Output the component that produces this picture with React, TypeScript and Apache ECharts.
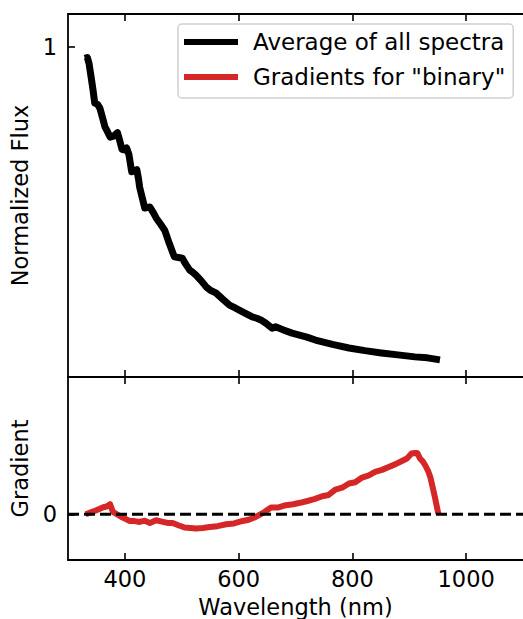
import React, { useEffect, useRef } from "react";
import * as echarts from "echarts";

const avgWavelength = [330, 334, 337, 341, 344, 347, 352, 356, 360, 365, 369, 374, 380, 387, 391, 395, 399, 403, 407, 412, 416, 421, 424, 426, 431, 435, 440, 444, 450, 455, 462, 470, 478, 487, 494, 501, 507, 514, 519, 525, 534, 543, 551, 560, 572, 584, 593, 601, 612, 624, 632, 639, 648, 659, 665, 680, 694, 707, 720, 735, 765, 794, 822, 851, 880, 910, 932, 954];
const avgFlux = [0.965, 0.968, 0.95, 0.905, 0.87, 0.83, 0.826, 0.815, 0.79, 0.758, 0.745, 0.727, 0.73, 0.74, 0.716, 0.69, 0.688, 0.694, 0.675, 0.622, 0.624, 0.628, 0.6, 0.575, 0.54, 0.512, 0.514, 0.515, 0.498, 0.482, 0.465, 0.445, 0.405, 0.364, 0.362, 0.36, 0.342, 0.324, 0.318, 0.309, 0.292, 0.273, 0.262, 0.255, 0.236, 0.218, 0.21, 0.203, 0.193, 0.182, 0.178, 0.173, 0.163, 0.148, 0.152, 0.142, 0.133, 0.127, 0.121, 0.112, 0.099, 0.088, 0.08, 0.073, 0.067, 0.061, 0.058, 0.052];

const gradWavelength = [331, 340, 350, 356, 362, 368, 374, 379, 386, 394, 401, 408, 417, 426, 435, 444, 450, 455, 465, 475, 484, 494, 505, 515, 525, 537, 549, 563, 578, 592, 607, 618, 630, 643, 657, 664, 670, 683, 696, 708, 721, 733, 747, 758, 770, 782, 794, 805, 817, 829, 840, 852, 864, 875, 887, 896, 904, 910, 914, 919, 924, 928, 933, 937, 941, 945, 948, 951];
const gradValue = [0, 0.04, 0.087, 0.12, 0.153, 0.17, 0.219, 0.05, 0.0, -0.059, -0.1, -0.146, -0.15, -0.168, -0.14, -0.19, -0.16, -0.131, -0.16, -0.19, -0.19, -0.24, -0.29, -0.3, -0.313, -0.3, -0.278, -0.26, -0.219, -0.2, -0.146, -0.12, -0.059, 0.03, 0.146, 0.15, 0.15, 0.197, 0.22, 0.25, 0.29, 0.33, 0.393, 0.42, 0.54, 0.58, 0.671, 0.7, 0.802, 0.85, 0.925, 0.97, 1.034, 1.09, 1.165, 1.22, 1.327, 1.34, 1.34, 1.218, 1.15, 1.071, 0.95, 0.815, 0.6, 0.378, 0.2, 0.015];

const xTicks = [400, 600, 800, 1000];
const fluxTicks = [1];
const gradTicks = [0];

const seriesNames = ["Average of all spectra", 'Gradients for "binary"'];
const xTitle = "Wavelength (nm)";
const fluxTitle = "Normalized Flux";
const gradTitle = "Gradient";

const FONT = "DejaVu Sans";

export default function App() {
  const ref = useRef<HTMLDivElement>(null);
  useEffect(() => {
    if (!ref.current) return;
    const chart = echarts.init(ref.current, null, { renderer: "svg" });
    const axisLine = { show: true, onZero: false, lineStyle: { color: "#000", width: 1.8 } };
    const xAxisBase = (grid: number, position: string, labels: boolean, name?: string) => ({
      type: "value",
      gridIndex: grid,
      position,
      min: 300,
      max: 1100,
      splitLine: { show: false },
      axisLine,
      axisTick: { show: true, inside: true, length: 7, lineStyle: { color: "#000", width: 1.6 }, customValues: xTicks },
      axisLabel: {
        show: labels,
        customValues: xTicks,
        formatter: (v: number) => String(v),
        color: "#000",
        fontFamily: FONT,
        fontSize: 22.5,
        margin: 7,
      },
      name: name || "",
      nameLocation: "middle",
      nameGap: 35,
      nameTextStyle: { color: "#000", fontFamily: FONT, fontSize: 22.5 },
    });
    const yAxisBase = (grid: number, min: number, max: number, ticks: number[], name: string) => ({
      type: "value",
      gridIndex: grid,
      position: "left",
      min,
      max,
      splitLine: { show: false },
      axisLine,
      axisTick: { show: true, inside: true, length: 7, lineStyle: { color: "#000", width: 1.6 }, customValues: ticks },
      axisLabel: { customValues: ticks, formatter: (v: number) => String(v), color: "#000", fontFamily: FONT, fontSize: 22.5, margin: 11 },
      name,
      nameLocation: "middle",
      nameGap: 35,
      nameTextStyle: { color: "#000", fontFamily: FONT, fontSize: 22.5 },
    });

    chart.setOption({
      animation: false,
      backgroundColor: "#fff",
      grid: [
        { left: 68, top: 14, width: 457, height: 363 },
        { left: 68, top: 377, width: 457, height: 183 },
      ],
      xAxis: [
        xAxisBase(0, "bottom", false),
        xAxisBase(0, "top", false),
        xAxisBase(1, "bottom", true, xTitle),
        xAxisBase(1, "top", false),
      ],
      yAxis: [
        yAxisBase(0, 0, 1.1, fluxTicks, fluxTitle),
        yAxisBase(1, -1, 3, gradTicks, gradTitle),
      ],
      legend: {
        left: 178,
        top: 24,
        orient: "vertical",
        data: seriesNames,
        icon: "rect",
        itemWidth: 54,
        itemHeight: 6,
        itemGap: 9,
        padding: [5, 8, 8, 6],
        borderColor: "#d0d0d0",
        borderWidth: 1.5,
        borderRadius: 4,
        backgroundColor: "rgba(255,255,255,0.8)",
        textStyle: { color: "#000", fontFamily: FONT, fontSize: 23, lineHeight: 26, padding: [0, 0, 0, 10] },
      },
      series: [
        {
          name: seriesNames[0],
          type: "line",
          xAxisIndex: 0,
          yAxisIndex: 0,
          data: avgWavelength.map((w, i) => [w, avgFlux[i]]),
          showSymbol: false,
          symbol: "none",
          lineStyle: { color: "#000", width: 7, join: "round", cap: "butt" },
          itemStyle: { color: "#000" },
        },
        {
          name: seriesNames[1],
          type: "line",
          xAxisIndex: 2,
          yAxisIndex: 1,
          data: gradWavelength.map((w, i) => [w, gradValue[i]]),
          showSymbol: false,
          symbol: "none",
          lineStyle: { color: "#d62728", width: 6, join: "round" },
          itemStyle: { color: "#d62728" },
          z: 3,
        },
        {
          name: "zero",
          type: "line",
          xAxisIndex: 2,
          yAxisIndex: 1,
          data: [[300, 0], [1100, 0]],
          showSymbol: false,
          symbol: "none",
          silent: true,
          lineStyle: { color: "#000", width: 2.8, type: [11, 5] },
          z: 4,
        },
      ],
    });
    return () => chart.dispose();
  }, []);
  return <div ref={ref} style={{ position: "fixed", left: 0, top: 0, width: 523, height: 619 }} />;
}
